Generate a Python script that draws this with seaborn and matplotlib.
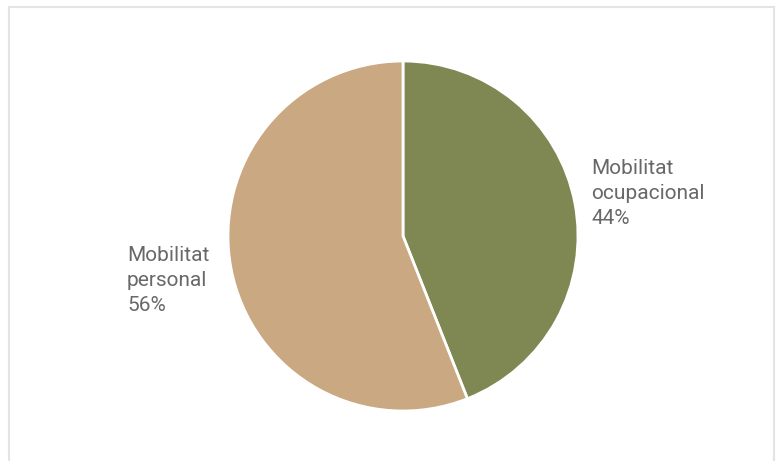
import matplotlib
matplotlib.use("Agg")
import matplotlib.pyplot as plt
import seaborn as sns
from matplotlib.patches import Rectangle

sns.set_theme(style="white")
plt.rcParams['font.family'] = ['Roboto', 'DejaVu Sans']

# data
categories = ['Mobilitat\nocupacional', 'Mobilitat\npersonal']
values = [44, 56]
colors = ['#7f8752', '#c9a882']

fig = plt.figure(figsize=(7.82, 4.61), dpi=100)
ax = fig.add_axes([0, 0, 1, 1])

ax.pie(values, colors=colors, startangle=90, counterclock=False,
       center=(403, 225), radius=175,
       wedgeprops=dict(edgecolor='white', linewidth=2))

# pie() resets the limits, so set them afterwards
ax.set_xlim(0, 782)
ax.set_ylim(0, 461)
ax.set_aspect('equal')
ax.axis('off')

# light frame round the chart
ax.add_patch(Rectangle((9, -10), 765, 464, fill=False, edgecolor='#e4e4e4', lw=1.5))

label_pos = [(591, 302, 'left'), (127, 215, 'left')]
for cat, val, (x, y, ha) in zip(categories, values, label_pos):
    ax.text(x, y, f'{cat}\n{val}%', ha=ha, va='top', fontsize=15,
            color='#686868', linespacing=1.4)

fig.savefig('out.png', dpi=100)
